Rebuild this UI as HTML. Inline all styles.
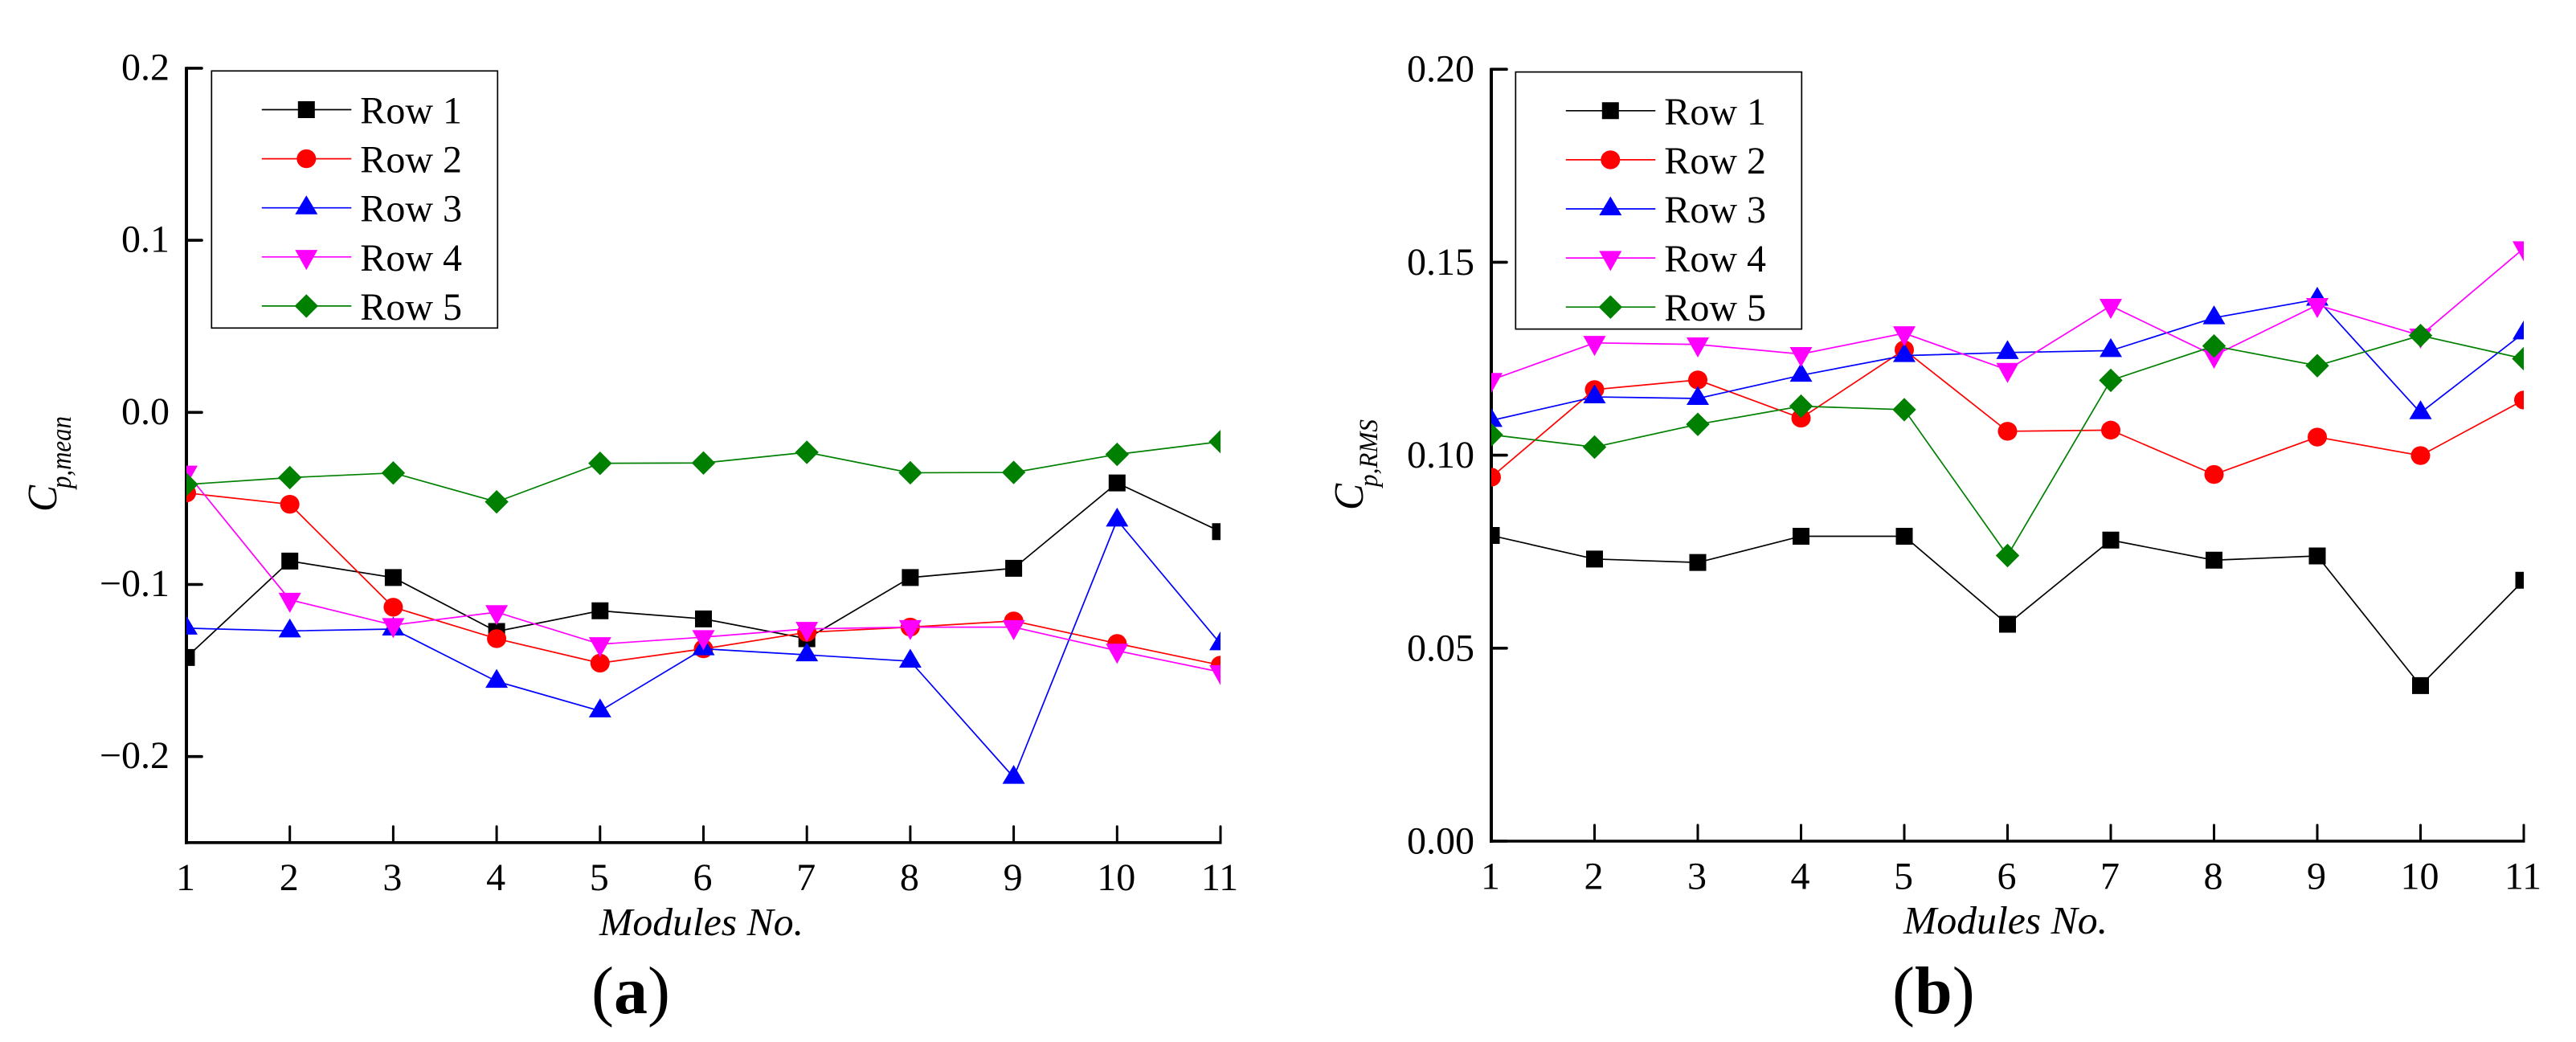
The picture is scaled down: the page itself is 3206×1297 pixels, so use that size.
<!DOCTYPE html>
<html lang="en">
<head>
<meta charset="utf-8">
<title>Cp mean and Cp RMS by module</title>
<style>
  html, body { margin: 0; padding: 0; background: #fff; }
  svg { display: block; }
  text { font-family: "Liberation Serif", serif; fill: #000; }
</style>
</head>
<body>
<svg id="figure" xmlns="http://www.w3.org/2000/svg" width="3206" height="1297" viewBox="0 0 3206 1297">
  <rect x="0" y="0" width="3206" height="1297" fill="#fff"/>
  <g id="panel-a"></g>
  <g id="panel-b"></g>

  <text x="746" y="1164" font-size="49" font-style="italic" textLength="254" lengthAdjust="spacingAndGlyphs">Modules No.</text>
  <text x="2369" y="1162" font-size="49" font-style="italic" textLength="254" lengthAdjust="spacingAndGlyphs">Modules No.</text>

  <text transform="translate(70,637) rotate(-90)" font-size="52" font-style="italic" textLength="33" lengthAdjust="spacingAndGlyphs">C</text>
  <text transform="translate(88,608) rotate(-90)" font-size="36" font-style="italic" textLength="90" lengthAdjust="spacingAndGlyphs">p,mean</text>
  <text transform="translate(1696,635) rotate(-90)" font-size="52" font-style="italic" textLength="33" lengthAdjust="spacingAndGlyphs">C</text>
  <text transform="translate(1714,606) rotate(-90)" font-size="33" font-style="italic" textLength="84" lengthAdjust="spacingAndGlyphs">p,RMS</text>

  <text x="736" y="1261" font-size="84">(<tspan font-weight="bold">a</tspan>)</text>
  <text x="2355" y="1261" font-size="84">(<tspan font-weight="bold">b</tspan>)</text>
</svg>

<script>
const categories = ["1", "2", "3", "4", "5", "6", "7", "8", "9", "10", "11"];
const seriesNames = ["Row 1", "Row 2", "Row 3", "Row 4", "Row 5"];

const meanTickValues = [0.2, 0.1, 0, -0.1, -0.2];
const meanTickLabels = ["0.2", "0.1", "0.0", "\u22120.1", "\u22120.2"];
const meanRow1 = [-0.1424, -0.0864, -0.096, -0.1273, -0.1153, -0.12, -0.1315, -0.096, -0.0906, -0.041, -0.0693];
const meanRow2 = [-0.0468, -0.0534, -0.1132, -0.1315, -0.1457, -0.1374, -0.1278, -0.1248, -0.1212, -0.1343, -0.1469];
const meanRow3 = [-0.1254, -0.127, -0.1259, -0.1563, -0.1735, -0.1374, -0.1409, -0.1446, -0.2121, -0.0626, -0.1345];
const meanRow4 = [-0.035, -0.1089, -0.1236, -0.1161, -0.1347, -0.1306, -0.1258, -0.1248, -0.1248, -0.1385, -0.1509];
const meanRow5 = [-0.0419, -0.0379, -0.0352, -0.052, -0.0296, -0.0294, -0.0232, -0.0351, -0.0349, -0.0244, -0.017];

const rmsTickValues = [0.2, 0.15, 0.1, 0.05, 0];
const rmsTickLabels = ["0.20", "0.15", "0.10", "0.05", "0.00"];
const rmsRow1 = [0.0792, 0.0731, 0.0722, 0.079, 0.079, 0.0562, 0.078, 0.0728, 0.0739, 0.0403, 0.0676];
const rmsRow2 = [0.0943, 0.117, 0.1195, 0.1096, 0.1273, 0.1062, 0.1065, 0.095, 0.1047, 0.0999, 0.1143];
const rmsRow3 = [0.109, 0.1151, 0.1147, 0.1207, 0.1258, 0.1266, 0.1271, 0.1356, 0.1404, 0.111, 0.1317];
const rmsRow4 = [0.1195, 0.1291, 0.1287, 0.1262, 0.1316, 0.1221, 0.1387, 0.1258, 0.1389, 0.131, 0.1536];
const rmsRow5 = [0.1053, 0.1021, 0.108, 0.1127, 0.1118, 0.074, 0.1194, 0.1283, 0.1232, 0.131, 0.125];

const colors = ["#000000", "#ff0000", "#0000ff", "#ff00ff", "#008000"];
const shapes = ["square", "circle", "up", "down", "diamond"];
const NS = "http://www.w3.org/2000/svg";

function make(parent, tag, attrs, text) {
  const node = document.createElementNS(NS, tag);
  for (const k in attrs) node.setAttribute(k, attrs[k]);
  if (text !== undefined) node.textContent = text;
  parent.appendChild(node);
  return node;
}

function markerPath(shape, x, y) {
  if (shape === "square") return `M${x-10.5} ${y-10.5}h21v21h-21z`;
  if (shape === "circle") return `M${x-12} ${y}a12 11.7 0 1 0 24 0a12 11.7 0 1 0 -24 0z`;
  if (shape === "up") return `M${x} ${y-15.5}L${x+14} ${y+8}L${x-14} ${y+8}z`;
  if (shape === "down") return `M${x-14} ${y-8.7}L${x+14} ${y-8.7}L${x} ${y+16.3}z`;
  return `M${x} ${y-14.7}L${x+14.7} ${y}L${x} ${y+14.7}L${x-14.7} ${y}z`;
}

function drawPanel(cfg) {
  const g = document.getElementById(cfg.id);
  const sx = i => cfg.x0 + (cfg.x1 - cfg.x0) * i / (categories.length - 1);
  const sy = v => cfg.yZero - v * cfg.yScale;
  const bottom = sy(cfg.yMin);
  const top = sy(cfg.yMax);
  const clipId = cfg.id + "-clip";

  const defs = make(g, "defs", {});
  const clip = make(defs, "clipPath", { id: clipId });
  make(clip, "rect", { x: cfg.x0, y: top - 30, width: cfg.x1 - cfg.x0, height: bottom - top + 30 });

  const yAxis = make(g, "line", { x1: cfg.x0, x2: cfg.x0, y1: top - 1.5, y2: bottom + 2, stroke: "#000", "stroke-width": 4 });
  
  
  const xAxis = make(g, "line", { x1: cfg.x0 - 2, x2: cfg.x1 + 1.5, y1: bottom, y2: bottom, stroke: "#000", "stroke-width": 3.6 });
  
  

  cfg.tickValues.forEach((v, i) => {
    const tick = make(g, "line", { x1: cfg.x0, x2: cfg.x0 + 19, y1: sy(v), y2: sy(v), stroke: "#000", "stroke-width": 3.6, "stroke-linecap": "round" });
    
    
    const label = make(g, "text", { x: cfg.yLabelX, y: sy(v) + cfg.yLabelDy, "font-size": 48, "text-anchor": "end" }, cfg.tickLabels[i]);
    
    
  });

  categories.forEach((c, i) => {
    if (i > 0) {
      const tick = make(g, "line", { x1: sx(i), x2: sx(i), y1: bottom, y2: bottom - 20, stroke: "#000", "stroke-width": 3, "stroke-linecap": "round" });
      
      
    }
    const label = make(g, "text", { x: sx(i) - 1, y: cfg.xLabelY, "font-size": 48, "text-anchor": "middle" }, c);
    
    
  });

  const plot = make(g, "g", { "clip-path": `url(#${clipId})` });
  
  
  cfg.series.forEach((vals, s) => {
    const sg = make(plot, "g", {});
    
    
    const line = make(sg, "polyline", { points: vals.map((v, i) => sx(i) + "," + sy(v)).join(" "), fill: "none", stroke: colors[s], "stroke-width": 1.7 });
    
    
    vals.forEach((v, i) => {
      const mark = make(sg, "path", { d: markerPath(shapes[s], sx(i), sy(v)), fill: colors[s] });
      
      
    });
  });

  const legend = make(g, "g", {});
  
  
  const box = make(legend, "rect", { x: cfg.legendX, y: cfg.legendY, width: 356, height: 320, fill: "#fff", stroke: "#000", "stroke-width": 1.7 });
  
  
  seriesNames.forEach((name, s) => {
    const entry = make(legend, "g", {});
    
    
    const ey = cfg.legendY + 48.2 + s * 61.1;
    make(entry, "line", { x1: cfg.legendX + 62.5, x2: cfg.legendX + 174, y1: ey, y2: ey, stroke: colors[s], "stroke-width": 1.7 });
    make(entry, "path", { d: markerPath(shapes[s], cfg.legendX + 118, ey), fill: colors[s] });
    make(entry, "text", { x: cfg.legendX + 185, y: ey + 17, "font-size": 48 }, name);
  });
}

drawPanel({
  id: "panel-a", x0: 232, x1: 1519, yZero: 513.3, yScale: 2142, yMax: 0.2, yMin: -0.25,
  tickValues: meanTickValues, tickLabels: meanTickLabels,
  series: [meanRow1, meanRow2, meanRow3, meanRow4, meanRow5],
  yLabelX: 211, yLabelDy: 14.5, xLabelY: 1108, legendX: 263.3, legendY: 88.3
});
drawPanel({
  id: "panel-b", x0: 1856, x1: 3141, yZero: 1047, yScale: 4804, yMax: 0.2, yMin: 0,
  tickValues: rmsTickValues, tickLabels: rmsTickLabels,
  series: [rmsRow1, rmsRow2, rmsRow3, rmsRow4, rmsRow5],
  yLabelX: 1835, yLabelDy: 15.5, xLabelY: 1106.5, legendX: 1886.3, legendY: 89.6
});
</script>
</body>
</html>
